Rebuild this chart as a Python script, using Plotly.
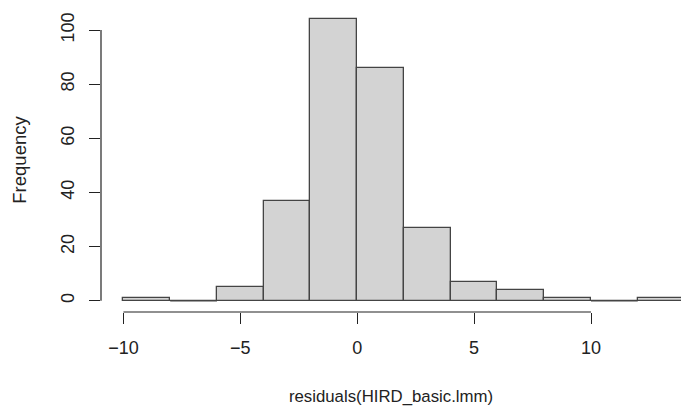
import plotly.graph_objects as go

bin_edges = [-10, -8, -6, -4, -2, 0, 2, 4, 6, 8, 10, 12, 14]
counts = [1, 0, 5, 37, 104, 86, 27, 7, 4, 1, 0, 1]
x_ticks = [-10, -5, 0, 5, 10]
y_ticks = [0, 20, 40, 60, 80, 100]
x_title = "residuals(HIRD_basic.lmm)"
y_title = "Frequency"

centers = [(a + b) / 2 for a, b in zip(bin_edges[:-1], bin_edges[1:])]
widths = [b - a for a, b in zip(bin_edges[:-1], bin_edges[1:])]

EDGE = "#444444"
TXT = "#222222"
FONT = "Liberation Sans, Arial, sans-serif"

fig = go.Figure()
fig.add_trace(go.Bar(
    x=centers, y=counts, width=widths,
    marker=dict(color="#D3D3D3", line=dict(color=EDGE, width=1.3)),
    hoverinfo="skip",
))

# zero-count bins are drawn as flat lines, like R's hist
zx, zy = [], []
for a, b, c in zip(bin_edges[:-1], bin_edges[1:], counts):
    if c == 0:
        zx += [a, b, None]
        zy += [0, 0, None]
fig.add_trace(go.Scatter(x=zx, y=zy, mode="lines",
                         line=dict(color=EDGE, width=1.3), hoverinfo="skip"))

xr = [-10.96, 13.85]
yr = [-4.16, 108.16]

shapes = [
    dict(type="line", xref="x", yref="paper", x0=x_ticks[0], x1=x_ticks[-1],
         y0=0, y1=0, line=dict(color=TXT, width=1.2)),
    dict(type="line", xref="paper", yref="y", x0=0, x1=0,
         y0=y_ticks[0], y1=y_ticks[-1], line=dict(color=TXT, width=1.2)),
]

fig.update_layout(
    width=681, height=409,
    margin=dict(l=101, r=0, t=8, b=97),
    paper_bgcolor="white", plot_bgcolor="white",
    showlegend=False, bargap=0,
    font=dict(family=FONT, size=18, color=TXT),
    shapes=shapes,
    xaxis=dict(range=xr, tickvals=x_ticks, ticktext=[str(v).replace("-", "\u2212") for v in x_ticks],
               ticks="outside", ticklen=11, tickwidth=1.2, tickcolor=TXT,
               showgrid=False, zeroline=False, showline=False,
               tickfont=dict(size=18), ticklabelstandoff=8,
               title=dict(text=x_title, font=dict(size=16.8), standoff=33)),
    yaxis=dict(range=yr, tickvals=y_ticks, ticks="outside", ticklen=11, tickwidth=1.2,
               tickcolor=TXT, tickangle=-90, showgrid=False, zeroline=False,
               showline=False, tickfont=dict(size=18), ticklabelstandoff=8,
               title=dict(text=y_title, font=dict(size=18.5), standoff=26)),
)

fig.write_html("out.html")
